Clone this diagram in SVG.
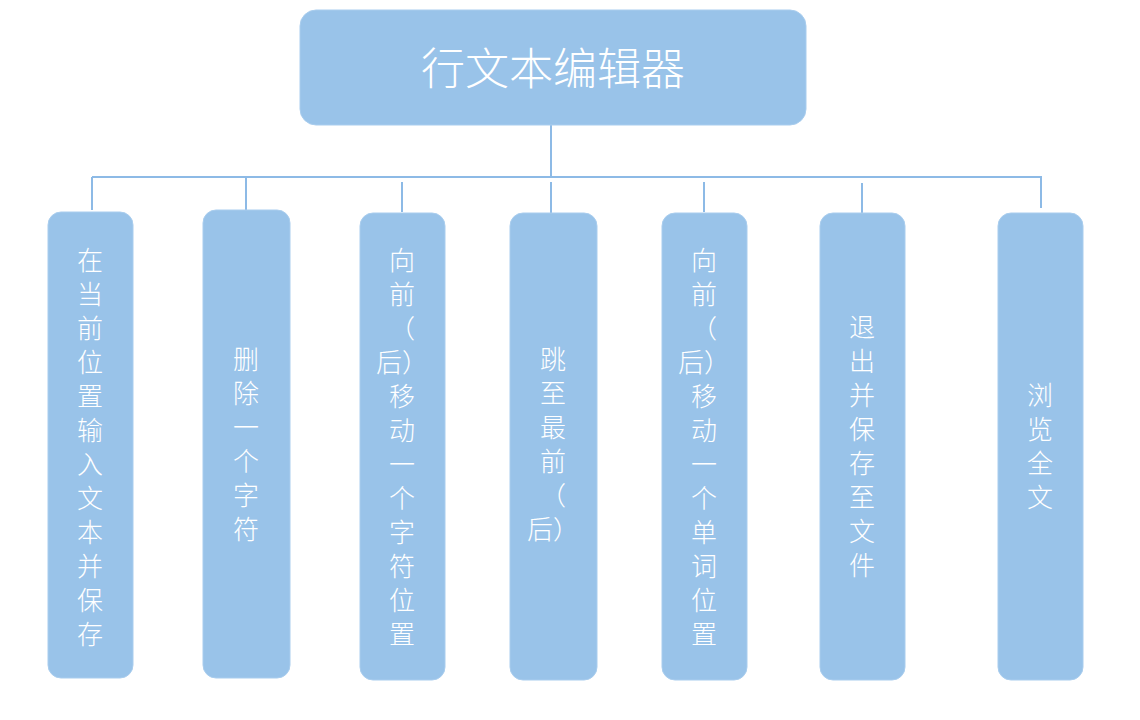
<svg xmlns="http://www.w3.org/2000/svg" width="1140" height="720" viewBox="0 0 1140 720">
<style>
.box{fill:#99C3E9;stroke:#A9CDEE;stroke-width:1}
.ln{stroke:#8DBAE6;stroke-width:2;fill:none}
.t{font-family:"Noto Sans CJK SC","Noto Sans CJK JP",sans-serif;font-size:26px;font-weight:300;fill:#FFFFFF;text-anchor:middle;dominant-baseline:central}
.title{font-family:"Noto Sans CJK SC","Noto Sans CJK JP",sans-serif;font-size:44px;font-weight:300;fill:#FFFFFF;text-anchor:middle;dominant-baseline:central}
</style>
<rect width="1140" height="720" fill="#FFFFFF"/>
<g id="connectors">
<line class="ln" x1="551" y1="125" x2="551" y2="177"/>
<line class="ln" x1="92" y1="177" x2="1042" y2="177"/>
<line class="ln" x1="92" y1="177" x2="92" y2="210"/>
<line class="ln" x1="246" y1="177" x2="246" y2="210"/>
<line class="ln" x1="402" y1="182" x2="402" y2="212"/>
<line class="ln" x1="551" y1="182" x2="551" y2="213"/>
<line class="ln" x1="704" y1="182" x2="704" y2="212"/>
<line class="ln" x1="862" y1="183" x2="862" y2="213"/>
<line class="ln" x1="1041" y1="177" x2="1041" y2="208"/>
</g>
<g id="root">
<rect class="box" x="300" y="10" width="506" height="115" rx="16"/>
<text class="title" x="553" y="66">行文本编辑器</text>
</g>
<g id="n1">
<rect class="box" x="48" y="212" width="85" height="466" rx="13"/>
<text class="t" x="90" y="258">在</text>
<text class="t" x="90" y="292">当</text>
<text class="t" x="90" y="326">前</text>
<text class="t" x="90" y="360">位</text>
<text class="t" x="90" y="394">置</text>
<text class="t" x="90" y="428">输</text>
<text class="t" x="90" y="462">入</text>
<text class="t" x="90" y="496">文</text>
<text class="t" x="90" y="530">本</text>
<text class="t" x="90" y="564">并</text>
<text class="t" x="90" y="598">保</text>
<text class="t" x="90" y="632">存</text>
</g>
<g id="n2">
<rect class="box" x="203" y="210" width="87" height="468" rx="13"/>
<text class="t" x="246" y="357">删</text>
<text class="t" x="246" y="391">除</text>
<text class="t" x="246" y="425">一</text>
<text class="t" x="246" y="459">个</text>
<text class="t" x="246" y="493">字</text>
<text class="t" x="246" y="527">符</text>
</g>
<g id="n3">
<rect class="box" x="360" y="213" width="85" height="467" rx="13"/>
<text class="t" x="402" y="258">向</text>
<text class="t" x="402" y="292">前</text>
<text class="t" x="402" y="326">（</text>
<text class="t" x="402" y="360">后）</text>
<text class="t" x="402" y="394">移</text>
<text class="t" x="402" y="428">动</text>
<text class="t" x="402" y="462">一</text>
<text class="t" x="402" y="496">个</text>
<text class="t" x="402" y="530">字</text>
<text class="t" x="402" y="564">符</text>
<text class="t" x="402" y="598">位</text>
<text class="t" x="402" y="632">置</text>
</g>
<g id="n4">
<rect class="box" x="510" y="213" width="87" height="467" rx="13"/>
<text class="t" x="553" y="357">跳</text>
<text class="t" x="553" y="391">至</text>
<text class="t" x="553" y="425">最</text>
<text class="t" x="553" y="459">前</text>
<text class="t" x="553" y="493">（</text>
<text class="t" x="553" y="527">后）</text>
</g>
<g id="n5">
<rect class="box" x="662" y="213" width="85" height="467" rx="13"/>
<text class="t" x="704" y="258">向</text>
<text class="t" x="704" y="292">前</text>
<text class="t" x="704" y="326">（</text>
<text class="t" x="704" y="360">后）</text>
<text class="t" x="704" y="394">移</text>
<text class="t" x="704" y="428">动</text>
<text class="t" x="704" y="462">一</text>
<text class="t" x="704" y="496">个</text>
<text class="t" x="704" y="530">单</text>
<text class="t" x="704" y="564">词</text>
<text class="t" x="704" y="598">位</text>
<text class="t" x="704" y="632">置</text>
</g>
<g id="n6">
<rect class="box" x="820" y="213" width="85" height="467" rx="13"/>
<text class="t" x="862" y="325">退</text>
<text class="t" x="862" y="359">出</text>
<text class="t" x="862" y="393">并</text>
<text class="t" x="862" y="427">保</text>
<text class="t" x="862" y="461">存</text>
<text class="t" x="862" y="495">至</text>
<text class="t" x="862" y="529">文</text>
<text class="t" x="862" y="563">件</text>
</g>
<g id="n7">
<rect class="box" x="998" y="213" width="85" height="467" rx="13"/>
<text class="t" x="1040" y="393">浏</text>
<text class="t" x="1040" y="427">览</text>
<text class="t" x="1040" y="461">全</text>
<text class="t" x="1040" y="495">文</text>
</g>
</svg>
